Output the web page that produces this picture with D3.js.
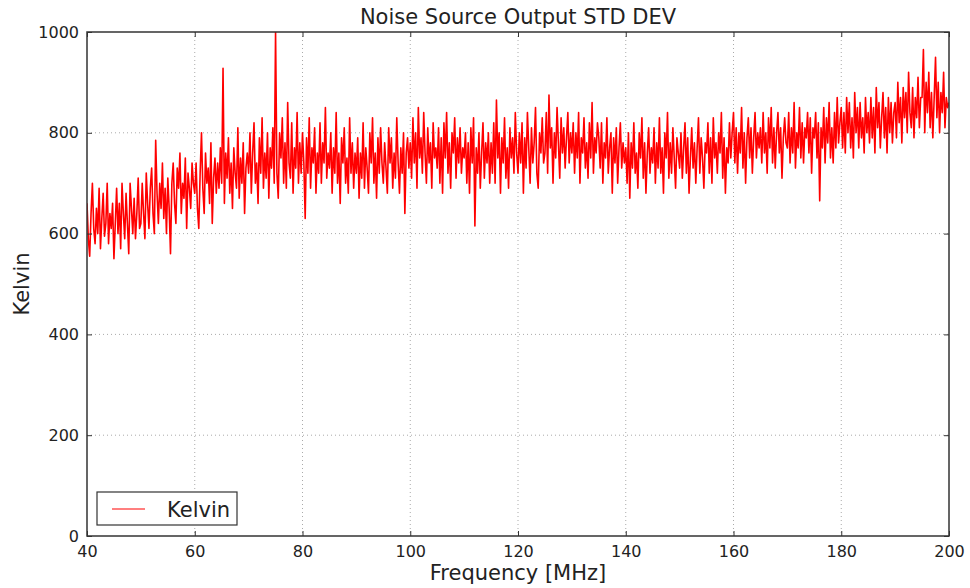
<!DOCTYPE html>
<html><head><meta charset="utf-8">
<script src="https://cdn.jsdelivr.net/npm/d3@7/dist/d3.min.js"></script>
<style>body{margin:0;background:#fff}svg{display:block}text{font-family:"DejaVu Sans",sans-serif;fill:#222}</style>
</head><body><svg id="c" width="970" height="588"></svg>
<script>
const title = "Noise Source Output STD DEV";
const xLabel = "Frequency [MHz]";
const yLabel = "Kelvin";
const seriesName = "Kelvin";
const xStart = 40, xStep = 0.25;
const xTicks = [40,60,80,100,120,140,160,180,200];
const yTicks = [0,200,400,600,800,1000];
const kelvin = [
660,590,555,640,700,610,580,650,600,690,570,630,680,595,620,700,580,640,610,660,
550,620,690,600,660,570,700,640,590,680,620,560,700,650,600,670,590,640,710,610,
620,700,640,590,720,660,610,690,730,640,600,785,680,620,700,650,740,630,690,600,
710,650,560,700,740,660,620,730,690,760,640,700,670,750,610,720,690,650,740,700,
680,740,650,610,720,800,690,640,760,700,730,660,780,620,710,750,680,740,690,770,
700,928,660,760,710,790,680,740,650,770,720,690,810,670,750,700,780,640,730,760,
720,800,680,760,820,700,740,660,790,720,830,690,760,710,800,670,770,730,810,700,
1000,720,670,800,750,830,700,780,690,860,740,710,820,680,770,730,840,700,780,720,
800,740,630,790,720,830,690,770,740,810,680,760,720,820,700,780,740,850,710,760,
730,800,680,770,720,840,700,760,660,790,740,810,700,750,680,830,720,780,690,760,
720,790,670,760,710,820,690,770,730,680,800,740,830,700,760,670,790,720,810,740,
700,780,730,680,810,740,790,690,760,710,830,740,680,770,720,800,640,760,790,730,
780,710,830,740,800,690,850,750,790,720,840,760,700,810,740,780,690,820,750,770,
730,810,700,790,680,820,750,840,720,780,690,800,760,830,710,790,740,810,720,770,
750,800,700,780,680,810,740,830,615,770,720,800,690,760,820,710,780,740,800,700,
780,720,820,700,865,750,800,680,790,740,830,710,770,690,810,750,790,720,840,760,
720,800,740,820,680,790,730,840,770,700,810,740,780,850,720,690,800,760,830,740,
760,840,720,875,770,810,700,800,750,850,780,710,830,760,810,730,790,840,740,800,
760,820,720,800,750,840,700,790,760,830,730,780,710,820,750,860,720,790,760,820,
790,730,820,700,780,750,830,720,770,800,680,790,740,810,700,770,820,730,780,740,
770,700,800,670,780,730,820,720,760,690,800,750,830,710,780,680,760,810,720,770,
740,810,700,780,730,830,720,770,680,800,750,840,710,780,720,810,750,690,790,760,
730,800,710,770,820,720,790,680,750,810,730,780,700,770,830,720,790,750,690,780,
760,820,720,790,700,830,750,780,720,800,760,840,710,790,680,770,740,820,750,800,
840,740,810,720,800,760,850,730,800,700,790,830,750,810,720,790,840,750,800,770,
810,740,840,760,800,720,830,770,850,740,810,730,800,840,760,810,710,790,830,780,
770,840,740,810,760,860,730,800,770,850,750,820,740,810,790,840,760,830,720,810,
790,840,750,820,665,810,770,850,740,830,780,860,750,810,740,840,770,870,780,820,
850,770,840,760,870,800,860,770,830,750,880,800,850,770,860,790,830,760,870,800,
840,780,870,790,850,760,890,810,860,770,830,880,790,850,760,870,800,860,780,840,
860,790,900,820,870,780,890,830,880,800,920,840,810,890,790,870,830,910,810,870,
870,965,800,900,840,920,810,880,790,870,950,830,900,800,880,840,920,810,870,850,
860];
const data = kelvin.map((v,i)=>({f: xStart + i*xStep, k: v}));

const L=87, R=949, T=32, B=536;
const svg = d3.select("#c");
const x = d3.scaleLinear().domain([40,200]).range([L,R]);
const y = d3.scaleLinear().domain([0,1000]).range([B,T]);

// grid
const g = svg.append("g");
g.selectAll(".gx").data(xTicks.slice(1,-1)).join("line")
 .attr("x1",d=>x(d)).attr("x2",d=>x(d)).attr("y1",T).attr("y2",B)
 .attr("stroke","#aaa").attr("stroke-width",1).attr("stroke-dasharray","1,3");
g.selectAll(".gy").data(yTicks.slice(1,-1)).join("line")
 .attr("y1",d=>y(d)).attr("y2",d=>y(d)).attr("x1",L).attr("x2",R)
 .attr("stroke","#aaa").attr("stroke-width",1).attr("stroke-dasharray","1,3");

// line
svg.append("defs").append("clipPath").attr("id","clip").append("rect")
 .attr("x",L).attr("y",T).attr("width",R-L).attr("height",B-T);
svg.append("path").datum(data).attr("clip-path","url(#clip)")
 .attr("fill","none").attr("stroke","#ff0000").attr("stroke-width",1.6)
 .attr("stroke-linejoin","round")
 .attr("d", d3.line().x(d=>x(d.f)).y(d=>y(d.k)));

// axes (ticks inward)
const ax = d3.axisBottom(x).tickValues(xTicks).tickSize(-5).tickPadding(10).tickFormat(d3.format("d"));
const ay = d3.axisLeft(y).tickValues(yTicks).tickSize(-5).tickPadding(8).tickFormat(d3.format("d"));
const axT = d3.axisTop(x).tickValues(xTicks).tickSize(-5).tickFormat("");
const ayR = d3.axisRight(y).tickValues(yTicks).tickSize(-5).tickFormat("");
function style(sel){
  sel.select(".domain").remove();
  sel.selectAll("line").attr("stroke","#333");
  sel.selectAll("text").style("font-size","16px").style("font-family","DejaVu Sans").attr("fill","#222");
}
svg.append("g").attr("transform",`translate(0,${B})`).call(ax).call(style);
svg.append("g").attr("transform",`translate(${L},0)`).call(ay).call(style);
svg.append("g").attr("transform",`translate(0,${T})`).call(axT).call(style);
svg.append("g").attr("transform",`translate(${R},0)`).call(ayR).call(style);
svg.append("rect").attr("x",L).attr("y",T).attr("width",R-L).attr("height",B-T)
 .attr("fill","none").attr("stroke","#333").attr("stroke-width",1.5);

// titles
svg.append("text").attr("x",(L+R)/2).attr("y",24).attr("text-anchor","middle").style("font-size","21px").text(title);
svg.append("text").attr("x",(L+R)/2).attr("y",580).attr("text-anchor","middle").style("font-size","21px").text(xLabel);
svg.append("text").attr("transform",`translate(29,${(T+B)/2}) rotate(-90)`).attr("text-anchor","middle").style("font-size","21px").text(yLabel);

// legend
const lg = svg.append("g");
lg.append("rect").attr("x",97).attr("y",492).attr("width",140).attr("height",33)
 .attr("fill","#fff").attr("stroke","#333").attr("stroke-width",1.2);
lg.append("line").attr("x1",112).attr("x2",145).attr("y1",509).attr("y2",509).attr("stroke","#ff0000").attr("stroke-width",1.2);
lg.append("text").attr("x",167).attr("y",517).style("font-size","21px").text(seriesName);
</script></body></html>
